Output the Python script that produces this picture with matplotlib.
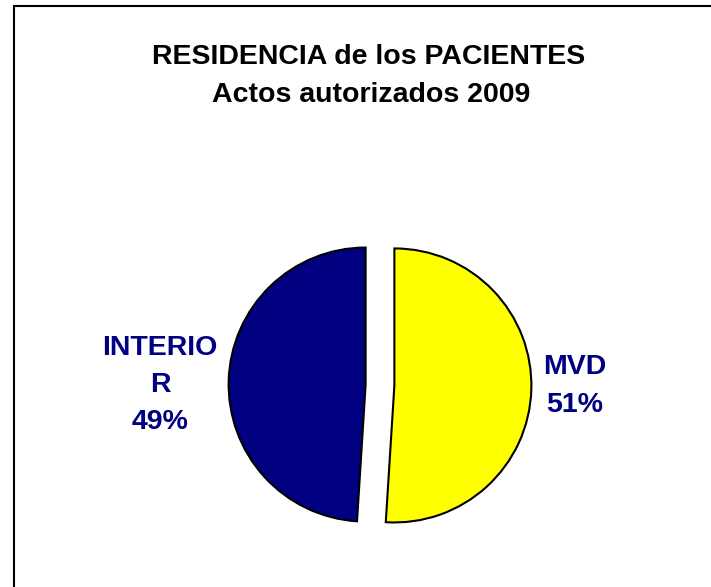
import matplotlib
matplotlib.use('Agg')
import matplotlib.pyplot as plt
from matplotlib.patches import Rectangle

# data
labels = ['MVD', 'INTERIO\nR']
shares = [51, 49]
colors = ['#FFFF00', '#000080']

plt.rcParams['font.family'] = ['Liberation Sans', 'DejaVu Sans']

W, H = 711, 587
fig = plt.figure(figsize=(W / 100, H / 100), dpi=100)
fig.patch.set_facecolor('white')

# frame around the chart area (runs off the right and bottom edge)
fig.patches.append(Rectangle((14 / W, -0.2), 1.2, (H - 6) / H + 0.2,
                             transform=fig.transFigure, fill=False,
                             edgecolor='black', lw=1.5))

ax = fig.add_axes([0, 0, 1, 1])
wedges, _ = ax.pie(shares, colors=colors, startangle=90, counterclock=False,
                   explode=[0.105, 0.105], radius=1.0,
                   wedgeprops=dict(edgecolor='black', linewidth=1.5))

# pixel scale: radius ~137 px, pie centre at (380, 385) from top-left
scale = 137.0
cx, cy = 380.0, 385.0
ax.set_xlim(-cx / scale, (W - cx) / scale)
ax.set_ylim(-(H - cy) / scale, cy / scale)
ax.set_aspect('auto')
ax.axis('off')

lab_x = [(575 - cx) / scale, (160 - cx) / scale]
lab_y = [-1 / scale, 0]
for name, pct, x, y in zip(labels, shares, lab_x, lab_y):
    ax.text(x, y, '%s\n%d%%' % (name, pct), ha='center', va='center',
            fontsize=20.5, fontweight='bold', color='#000080',
            linespacing=1.57, multialignment='center')

fig.text(369 / W, 1 - 64 / H, 'RESIDENCIA de los PACIENTES', ha='center',
         va='baseline', fontsize=20.5, fontweight='bold', color='black')
fig.text(371 / W, 1 - 102 / H, 'Actos autorizados 2009', ha='center',
         va='baseline', fontsize=20.5, fontweight='bold', color='black')

fig.savefig('out.png', dpi=100, facecolor='white')
